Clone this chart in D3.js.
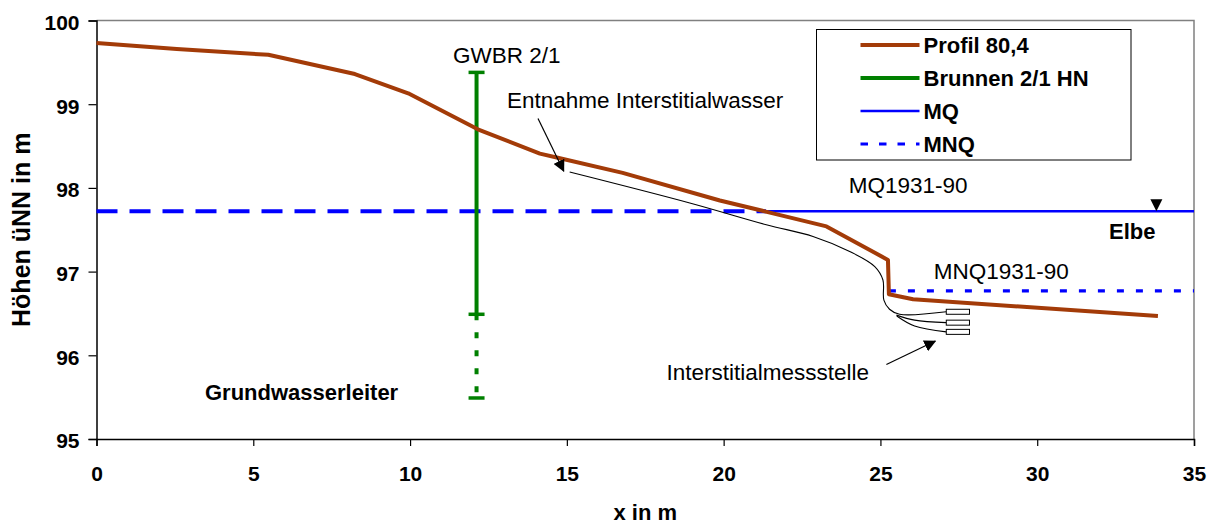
<!DOCTYPE html>
<html>
<head>
<meta charset="utf-8">
<script src="https://cdn.jsdelivr.net/npm/d3@7"></script>
<style>
  body { margin: 0; background: #fff; }
  text { font-family: "Liberation Sans", Arial, sans-serif; }
</style>
</head>
<body>
<div id="chart-area"></div>
<script>
// profile of the river bank (Profil 80,4)
var profileX = [0, 2.56, 5.48, 8.24, 9.94, 12.16, 14.14, 14.71, 16.78, 19.88, 21.31, 23.28, 25.24, 25.27, 26.04, 33.85];
var profileY = [99.73, 99.66, 99.59, 99.36, 99.13, 98.70, 98.41, 98.36, 98.18, 97.85, 97.72, 97.54, 97.14, 96.73, 96.67, 96.47];

// well GWBR 2/1 (Brunnen 2/1 HN)
var wellX = 12.12;
var wellY = [99.38, 96.49, 95.49];   // top, end of casing, bottom of screen

// water levels
var mqLevel = 97.72;
var mqGroundEnd = 21.35;   // dashed part under the bank
var mnqLevel = 96.77;
var mnqStart = 25.27;

// sampling tubes (Entnahme Interstitialwasser)
var tubeMainX = [15.09, 18.92, 21.36, 22.85, 24.02, 24.82, 25.08, 25.11, 25.29, 25.61, 27.10];
var tubeMainY = [98.19, 97.82, 97.56, 97.42, 97.24, 97.06, 96.90, 96.66, 96.55, 96.49, 96.52];
var tube2X = [25.51, 26.09, 27.10];
var tube2Y = [96.48, 96.42, 96.39];
var tube3X = [25.52, 26.09, 27.10];
var tube3Y = [96.47, 96.35, 96.28];
var probeY = [96.52, 96.39, 96.28];
var probeX = [27.10, 27.84];

var xTicks = [0, 5, 10, 15, 20, 25, 30, 35];
var yTicks = [95, 96, 97, 98, 99, 100];
var legendLabels = ["Profil 80,4", "Brunnen 2/1 HN", "MQ", "MNQ"];

var labelText = ["GWBR 2/1", "Entnahme Interstitialwasser", "MQ1931-90", "Elbe", "MNQ1931-90", "Grundwasserleiter", "Interstitialmessstelle"];
var labelX = [11.37, 13.09, 23.99, 32.29, 26.70, 3.46, 18.18];
var labelY = [99.49, 98.96, 97.94, 97.39, 96.91, 95.47, 95.70];
var labelBold = [false, false, false, true, false, true, false];

var brown = "#a33b08", green = "#008000", blue = "#0000ff";

var width = 1216, height = 524;
var margin = { top: 20.5, right: 22, bottom: 85, left: 96.5 };

var svg = d3.select("#chart-area").append("svg")
  .attr("width", width)
  .attr("height", height)
  .style("display", "block");

svg.append("rect").attr("width", width).attr("height", height).attr("fill", "#fff");

var defs = svg.append("defs");
defs.append("marker")
  .attr("id", "arrow")
  .attr("viewBox", "0 0 12 12")
  .attr("refX", 11).attr("refY", 6)
  .attr("markerWidth", 12).attr("markerHeight", 12)
  .attr("markerUnits", "userSpaceOnUse")
  .attr("orient", "auto")
  .append("path")
  .attr("d", "M0,0 L12,6 L0,12 Z")
  .attr("fill", "#000");

var x = d3.scaleLinear().domain([0, 35]).range([margin.left, width - margin.right]);
var y = d3.scaleLinear().domain([95, 100]).range([height - margin.bottom, margin.top]);

// plot frame (top/right)
svg.append("path")
  .attr("d", "M" + x(0) + "," + y(100) + "H" + x(35) + "V" + y(95))
  .attr("fill", "none")
  .attr("stroke", "#808080")
  .attr("stroke-width", 1.5);

// axes
var yAxis = svg.append("g")
  .attr("transform", "translate(" + x(0) + ",0)")
  .call(d3.axisLeft(y).tickValues(yTicks).tickSize(8).tickPadding(9).tickFormat(d3.format("d")));
yAxis.selectAll("text").attr("dy", "0.42em");

var xAxis = svg.append("g")
  .attr("transform", "translate(0," + y(95) + ")")
  .call(d3.axisBottom(x).tickValues(xTicks).tickSize(7).tickPadding(20).tickFormat(d3.format("d")));

[xAxis, yAxis].forEach(function(g) {
  g.select(".domain").attr("stroke", "#000").attr("stroke-width", 1.5);
  g.selectAll(".tick line").attr("stroke", "#000").attr("stroke-width", 1.2);
  g.selectAll("text")
    .attr("fill", "#000")
    .style("font-family", "'Liberation Sans', Arial, sans-serif")
    .style("font-size", "21px")
    .style("font-weight", "bold");
});

svg.append("text")
  .attr("transform", "translate(30," + ((y(95) + y(100)) / 2) + ") rotate(-90)")
  .attr("text-anchor", "middle")
  .style("font-size", "25px").style("font-weight", "bold")
  .text("Höhen üNN in m");

svg.append("text")
  .attr("x", (x(0) + x(35)) / 2).attr("y", 520)
  .attr("text-anchor", "middle")
  .style("font-size", "22px").style("font-weight", "bold")
  .text("x in m");

// water levels
svg.append("line")
  .attr("x1", x(0)).attr("x2", x(mqGroundEnd))
  .attr("y1", y(mqLevel)).attr("y2", y(mqLevel))
  .attr("stroke", blue).attr("stroke-width", 4)
  .attr("stroke-dasharray", "21,12");

svg.append("line")
  .attr("x1", x(mqGroundEnd)).attr("x2", x(35))
  .attr("y1", y(mqLevel)).attr("y2", y(mqLevel))
  .attr("stroke", blue).attr("stroke-width", 2.5);

svg.append("line")
  .attr("x1", x(mnqStart)).attr("x2", x(35))
  .attr("y1", y(mnqLevel)).attr("y2", y(mnqLevel))
  .attr("stroke", blue).attr("stroke-width", 3.2)
  .attr("stroke-dasharray", "7,12");

// Elbe marker (triangle on MQ)
var tri = d3.path();
tri.moveTo(x(33.8), y(mqLevel));
tri.lineTo(x(33.8) - 6, y(mqLevel) - 12);
tri.lineTo(x(33.8) + 6, y(mqLevel) - 12);
tri.closePath();
svg.append("path").attr("d", tri.toString()).attr("fill", "#000");

// sampling tubes
var curve = d3.line()
  .x(function(d) { return x(d[0]); })
  .y(function(d) { return y(d[1]); })
  .curve(d3.curveCatmullRom.alpha(0.5));

[[tubeMainX, tubeMainY], [tube2X, tube2Y], [tube3X, tube3Y]].forEach(function(t) {
  svg.append("path")
    .datum(d3.zip(t[0], t[1]))
    .attr("d", curve)
    .attr("fill", "none")
    .attr("stroke", "#000")
    .attr("stroke-width", 1.1);
});

svg.selectAll(".probe")
  .data(probeY)
  .enter()
  .append("rect")
  .attr("class", "probe")
  .attr("x", x(probeX[0]))
  .attr("width", x(probeX[1]) - x(probeX[0]))
  .attr("y", function(d) { return y(d) - 2.5; })
  .attr("height", 5)
  .attr("fill", "#fff")
  .attr("stroke", "#000")
  .attr("stroke-width", 1);

// well
svg.append("line")
  .attr("x1", x(wellX)).attr("x2", x(wellX))
  .attr("y1", y(wellY[0])).attr("y2", y(wellY[1]))
  .attr("stroke", green).attr("stroke-width", 4);
svg.append("line")
  .attr("x1", x(wellX)).attr("x2", x(wellX))
  .attr("y1", y(wellY[1])).attr("y2", y(wellY[2]))
  .attr("stroke", green).attr("stroke-width", 4)
  .attr("stroke-dasharray", "6,12");
svg.selectAll(".cap")
  .data(wellY)
  .enter()
  .append("line")
  .attr("class", "cap")
  .attr("x1", x(wellX) - 8).attr("x2", x(wellX) + 8)
  .attr("y1", function(d) { return y(d); })
  .attr("y2", function(d) { return y(d); })
  .attr("stroke", green).attr("stroke-width", 3.5);

// profile
var line = d3.line()
  .x(function(d) { return x(d[0]); })
  .y(function(d) { return y(d[1]); });

svg.append("path")
  .datum(d3.zip(profileX, profileY))
  .attr("d", line)
  .attr("fill", "none")
  .attr("stroke", brown)
  .attr("stroke-width", 4)
  .attr("stroke-linejoin", "round");

// arrows
var arrows = [[14.08, 98.83, 14.90, 98.20], [25.19, 95.89, 26.75, 96.17]];
arrows.forEach(function(a) {
  svg.append("line")
    .attr("x1", x(a[0])).attr("y1", y(a[1]))
    .attr("x2", x(a[2])).attr("y2", y(a[3]))
    .attr("stroke", "#000").attr("stroke-width", 1.2)
    .attr("marker-end", "url(#arrow)");
});

// labels
labelText.forEach(function(t, i) {
  svg.append("text")
    .attr("x", x(labelX[i])).attr("y", y(labelY[i]))
    .style("font-size", labelBold[i] ? "22px" : "22.5px")
    .style("font-weight", labelBold[i] ? "bold" : "normal")
    .attr("fill", "#000")
    .text(t);
});

// legend
var legend = svg.append("g").attr("transform", "translate(816.5,29.5)");
legend.append("rect")
  .attr("width", 314.5).attr("height", 130.5)
  .attr("fill", "#fff").attr("stroke", "#000").attr("stroke-width", 1);

var legendStyle = [
  { color: brown, width: 4, dash: null },
  { color: green, width: 4, dash: null },
  { color: blue, width: 2.5, dash: null },
  { color: blue, width: 3.2, dash: "7.5,11" }
];

var rowY = d3.scalePoint().domain(legendLabels).range([15.5, 114.5]);

var rows = legend.selectAll(".row")
  .data(legendLabels)
  .enter()
  .append("g")
  .attr("class", "row")
  .attr("transform", function(d) { return "translate(0," + rowY(d) + ")"; });

rows.append("line")
  .attr("x1", 44).attr("x2", 103)
  .attr("stroke", function(d, i) { return legendStyle[i].color; })
  .attr("stroke-width", function(d, i) { return legendStyle[i].width; })
  .attr("stroke-dasharray", function(d, i) { return legendStyle[i].dash; });

rows.append("text")
  .attr("x", 107).attr("y", 8)
  .style("font-size", "22px").style("font-weight", "bold")
  .text(function(d) { return d; });
</script>
</body>
</html>
